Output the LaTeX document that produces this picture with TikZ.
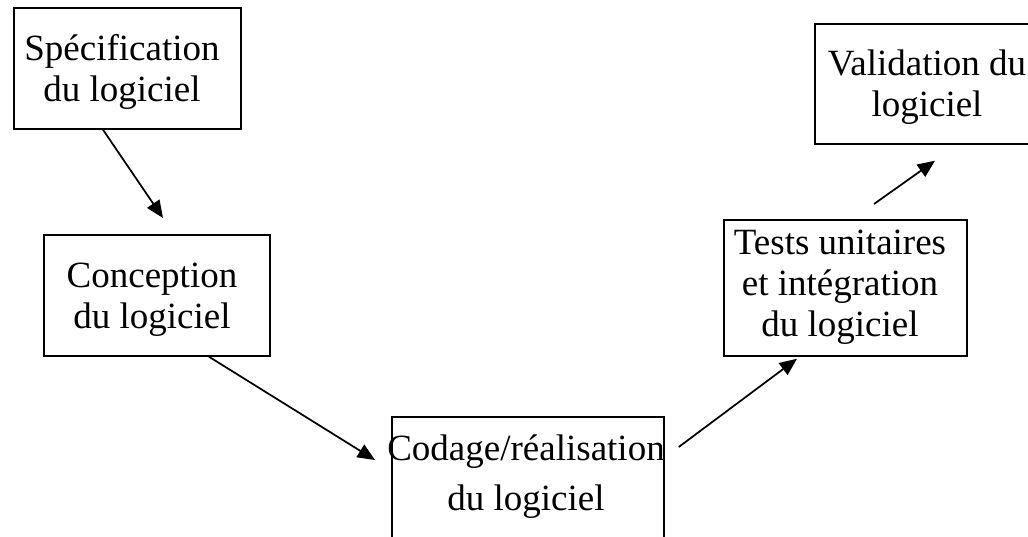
\documentclass[tikz,border=0pt]{standalone}
\usepackage{fontspec}
\setmainfont{Liberation Serif}
\usetikzlibrary{arrows.meta,calc}

\begin{document}
\begin{tikzpicture}[
    x=0.75pt, y=-0.75pt,
    box/.style={draw, line width=1.3pt, rectangle, inner sep=0pt, anchor=north west},
    lbl/.style={inner sep=0pt, anchor=north, align=center,
                font=\fontsize{27.75}{30.5}\selectfont},
    flow/.style={line width=1.3pt,
                 -{Triangle[length=13pt,width=11pt]}}
  ]
  % page frame
  \clip (0,0) rectangle (1028,536);
  \fill[white] (0,0) rectangle (1028,536);

  % phase boxes
  \node[box, minimum width={227*0.75pt}, minimum height={121*0.75pt}] (spec)    at (13,7)   {};
  \node[box, minimum width={226*0.75pt}, minimum height={121*0.75pt}] (concept) at (43,234)  {};
  \node[box, minimum width={272*0.75pt}, minimum height={150*0.75pt}] (codage)  at (391,416) {};
  \node[box, minimum width={243*0.75pt}, minimum height={136*0.75pt}] (tests)   at (723,219) {};
  \node[box, minimum width={226*0.75pt}, minimum height={120*0.75pt}] (valid)   at (814,23)  {};

  % phase titles
  \node[lbl] (specT)    at (122,32)  {\strut Spécification\\\strut du logiciel};
  \node[lbl] (conceptT) at (152,259) {\strut Conception\\\strut du logiciel};
  \node[lbl, font=\fontsize{27.75}{37.5}\selectfont]
             (codageT)  at (526,425) {\strut Codage/réalisation\\\strut du logiciel};
  \node[lbl] (testsT)   at (840,226) {\strut Tests unitaires\\\strut et intégration\\\strut du logiciel};
  \node[lbl] (validT)   at (927,47)  {\strut Validation du\\\strut logiciel};

  % flow between phases
  \draw[flow] ($(spec.south west)+(90,0)$)      -- ($(concept.north west)+(120,-16)$);
  \draw[flow] ($(concept.south west)+(166,0)$)  -- ($(codage.north west)+(-16,44)$);
  \draw[flow] ($(codage.north east)+(14,31)$)   -- ($(tests.south west)+(74,2)$);
  \draw[flow] ($(tests.north west)+(151,-15)$)  -- ($(valid.south west)+(121,16)$);
\end{tikzpicture}
\end{document}
